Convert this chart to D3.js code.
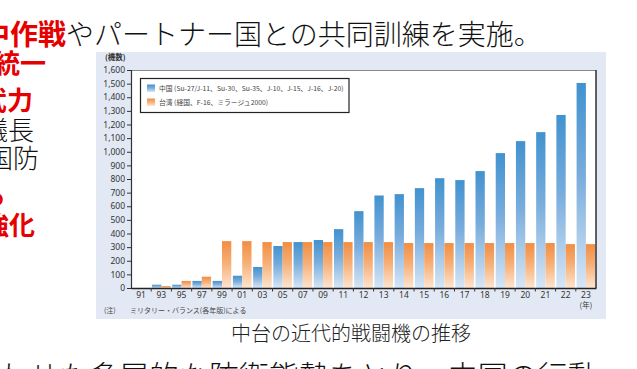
<!DOCTYPE html>
<html><head><meta charset="utf-8">
<script src="https://cdn.jsdelivr.net/npm/d3@7"></script>
<style>
html,body{margin:0;padding:0;background:#fff;}
svg{display:block;}
</style></head>
<body>
<svg id="c" width="637" height="369"></svg>
<script>
// ---- data ----
const years = ["91","93","95","97","99","01","03","05","07","09","11","12","13","14","15","16","17","18","19","20","21","22","23"];
const china = [0,24,24,52,52,90,154,308,337,352,432,564,679,689,733,806,792,858,990,1078,1144,1270,1505];
const taiwan = [0,15,52,83,344,344,337,337,337,337,337,337,337,330,330,330,330,330,330,330,330,322,322];
const yTicks = [0,100,200,300,400,500,600,700,800,900,1000,1100,1200,1300,1400,1500,1600];
const seriesNames = ["中国 (Su-27/J-11、Su-30、Su-35、J-10、J-15、J-16、J-20)","台湾 (経国、F-16、ミラージュ2000)"];

const JP = "'Noto Sans CJK JP','Noto Sans',sans-serif";
const svg = d3.select("#c");

// ---- slide text around the chart ----
const t1 = svg.append("text").attr("x",-18).attr("y",45).attr("font-family",JP).attr("font-size",28);
t1.append("tspan").attr("fill","#e60000").attr("font-weight",700).text("中作戦");
t1.append("tspan").attr("fill","#111").attr("font-weight",300).text("やパートナー国との共同訓練を実施。");

const sideLines = [
  {t:"統一",x:-6,y:73,red:true},
  {t:"武力",x:-19,y:110,red:true},
  {t:"議長",x:-18,y:140,red:false},
  {t:"国防",x:-13,y:168,red:false},
  {t:"ら",x:-20,y:205,red:true},
  {t:"強化",x:-17,y:235,red:true}
];
svg.selectAll("text.side").data(sideLines).join("text").attr("class","side")
  .attr("x",d=>d.x).attr("y",d=>d.y).attr("font-family",JP).attr("font-size",26)
  .attr("font-weight",d=>d.red?700:300).attr("fill",d=>d.red?"#e60000":"#111").text(d=>d.t);

svg.append("text").attr("x",-1).attr("y",387).attr("font-family",JP).attr("font-size",30)
  .attr("font-weight",300).attr("fill","#111").text("わせた多層的な防衛態勢をとり、中国の行動");

svg.append("text").attr("x",351).attr("y",341).attr("text-anchor","middle").attr("font-family",JP)
  .attr("font-size",20).attr("font-weight",300).attr("fill","#222").text("中台の近代的戦闘機の推移");

// ---- chart panel ----
svg.append("rect").attr("x",96).attr("y",52).attr("width",510).attr("height",267).attr("fill","#e3e9f4");

const X0 = 131, X1 = 596, Y0 = 288, Y1 = 70;
const x = d3.scaleBand().domain(years).range([X0,X1]).paddingInner(0.08).paddingOuter(0.04);
const sub = d3.scaleBand().domain(["china","taiwan"]).range([0,x.bandwidth()]);
const y = d3.scaleLinear().domain([0,1600]).range([Y0,Y1]);

svg.append("rect").attr("x",X0).attr("y",Y1).attr("width",X1-X0).attr("height",Y0-Y1).attr("fill","#fff");

const defs = svg.append("defs");
function grad(id, top, mid, bot){
  const g = defs.append("linearGradient").attr("id",id).attr("x1",0).attr("y1",0).attr("x2",0).attr("y2",1);
  g.append("stop").attr("offset","0%").attr("stop-color",top);
  g.append("stop").attr("offset","45%").attr("stop-color",mid);
  g.append("stop").attr("offset","100%").attr("stop-color",bot);
}
grad("gb","#4192cf","#78acdc","#d6e6f6");
grad("go","#f28d42","#f6ae74","#fde5d0");

const rows = years.map((yr,i)=>({yr, china:china[i], taiwan:taiwan[i]}));
const g = svg.append("g");
const grp = g.selectAll("g.grp").data(rows).join("g").attr("class","grp")
  .attr("transform",d=>`translate(${x(d.yr)},0)`);
grp.selectAll("rect").data(d=>[{k:"china",v:d.china},{k:"taiwan",v:d.taiwan}]).join("rect")
  .attr("x",d=>sub(d.k)).attr("width",sub.bandwidth())
  .attr("y",d=>y(d.v)).attr("height",d=>Y0-y(d.v))
  .attr("fill",d=>d.k==="china"?"url(#gb)":"url(#go)");

// frame: top gray, right dark
svg.append("line").attr("x1",X0).attr("x2",X1).attr("y1",Y1+0.5).attr("y2",Y1+0.5).attr("stroke","#8a8a8a").attr("stroke-width",1.2);
svg.append("line").attr("x1",X1).attr("x2",X1).attr("y1",Y1).attr("y2",Y0).attr("stroke","#222").attr("stroke-width",1.4);

// y axis
const ya = svg.append("g").attr("transform",`translate(${X0},0)`)
  .call(d3.axisLeft(y).tickValues(yTicks).tickSize(4).tickPadding(2).tickFormat(d3.format(",")));
ya.select(".domain").attr("stroke","#333").attr("stroke-width",1.2);
ya.selectAll(".tick line").attr("stroke","#333");
ya.selectAll(".tick text").attr("font-family","'Noto Sans',sans-serif").attr("font-size",8.5).attr("fill","#333");

// x axis (labels at band centres, ticks at band boundaries)
const xa = svg.append("g").attr("transform",`translate(0,${Y0})`)
  .call(d3.axisBottom(x).tickSize(0).tickPadding(4));
xa.select(".domain").attr("stroke","#222").attr("stroke-width",1.4);
xa.selectAll(".tick text").attr("font-family","'Noto Sans',sans-serif").attr("font-size",8.5).attr("fill","#333");
const step = x.step();
const bounds = years.slice(1).map((yr)=>x(yr) - x.paddingInner()*step/2);
svg.selectAll("line.bt").data(bounds).join("line").attr("class","bt")
  .attr("x1",d=>d).attr("x2",d=>d).attr("y1",Y0).attr("y2",Y0+3.5).attr("stroke","#333").attr("stroke-width",1);

// unit labels
svg.append("text").attr("x",105).attr("y",60).attr("font-family",JP).attr("font-size",7.5).attr("font-weight",700).attr("fill","#333").text("(機数)");
svg.append("text").attr("x",x("23")+x.bandwidth()/2).attr("y",308).attr("text-anchor","middle").attr("font-family",JP).attr("font-size",7.5).attr("fill","#333").text("(年)");
svg.append("text").attr("x",104).attr("y",313).attr("font-family",JP).attr("font-size",7).attr("fill","#444").text("(注)");
svg.append("text").attr("x",130).attr("y",313).attr("font-family",JP).attr("font-size",7).attr("fill","#444").text("ミリタリー・バランス(各年版)による");

// legend
svg.append("rect").attr("x",140.5).attr("y",78.5).attr("width",208.5).attr("height",34).attr("fill","#fff").attr("stroke","#222").attr("stroke-width",1.2);
const lg = svg.selectAll("g.lg").data(seriesNames).join("g").attr("class","lg")
  .attr("transform",(d,i)=>`translate(147,${84.5+i*14})`);
lg.append("rect").attr("width",8).attr("height",7.5).attr("fill",(d,i)=>i===0?"url(#gb)":"url(#go)");
lg.append("text").attr("x",12).attr("y",6.5).attr("font-family",JP).attr("font-size",6.8).attr("fill","#444").text(d=>d);
</script>
</body></html>
